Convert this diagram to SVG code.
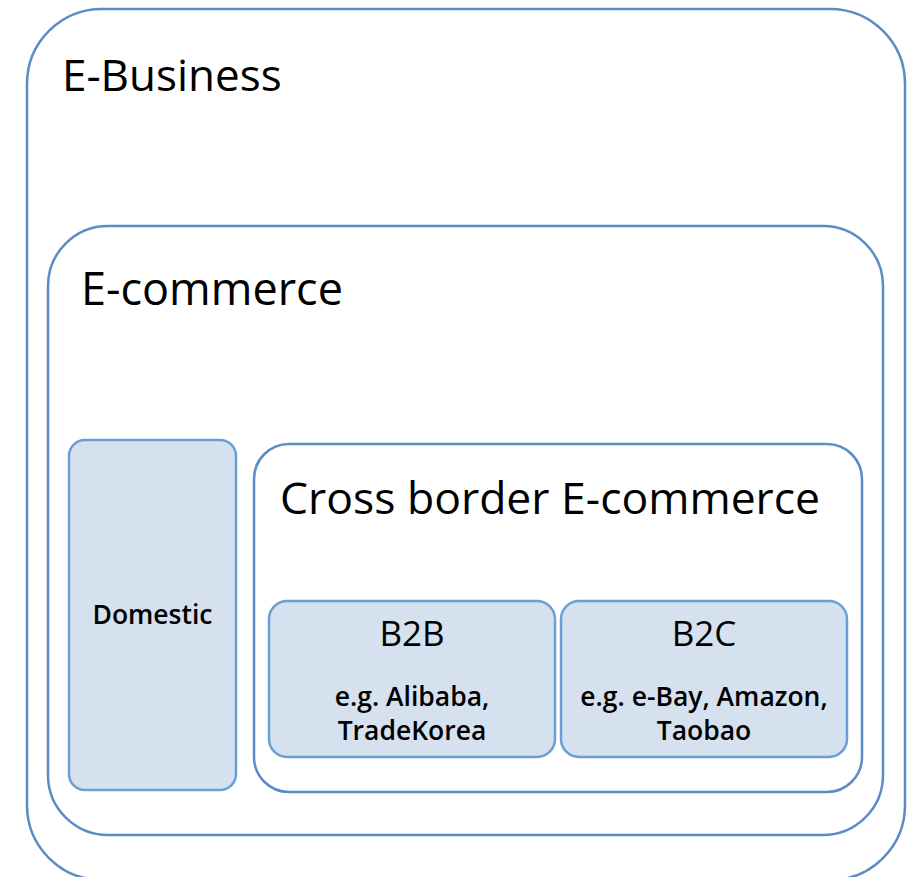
<svg xmlns="http://www.w3.org/2000/svg" width="910" height="877" viewBox="0 0 910 877">
  <style>
    .frame { fill: #ffffff; stroke: #5b8cc6; stroke-width: 2.5; }
    .box { fill: #d5e1ef; stroke: #6a9fd6; stroke-width: 2.5; }
    text { font-family: "Open Sans", "Noto Sans", "Liberation Sans", sans-serif; fill: #000000; }
    .title { font-size: 44.5px; }
    .head { font-size: 35px; text-anchor: middle; }
    .label { font-size: 26.5px; font-weight: 600; text-anchor: middle; }
  </style>
  <rect width="910" height="877" fill="#ffffff"/>

  <g id="e-business">
    <rect class="frame" x="27" y="9" width="878" height="871" rx="75" ry="75"/>
    <text class="title" x="62" y="91" style="font-size:44px">E-Business</text>
  </g>

  <g id="e-commerce">
    <rect class="frame" x="48" y="226" width="835" height="609" rx="60" ry="60"/>
    <text class="title" x="81" y="305" style="font-size:45px">E-commerce</text>
  </g>

  <g id="domestic">
    <rect class="box" x="69" y="440" width="167" height="350" rx="16" ry="16"/>
    <text class="label" x="152.5" y="624">Domestic</text>
  </g>

  <g id="cross-border">
    <rect class="frame" x="254" y="444" width="608" height="348" rx="35" ry="35"/>
    <text class="title" x="280" y="514">Cross border E-commerce</text>
  </g>

  <g id="b2b">
    <rect class="box" x="269" y="601" width="286" height="156" rx="18" ry="18"/>
    <text class="head" x="412" y="646">B2B</text>
    <text class="label" x="412" y="706">e.g. Alibaba,</text>
    <text class="label" x="412" y="740">TradeKorea</text>
  </g>

  <g id="b2c">
    <rect class="box" x="561" y="601" width="286" height="156" rx="18" ry="18"/>
    <text class="head" x="704" y="646">B2C</text>
    <text class="label" x="704" y="706">e.g. e-Bay, Amazon,</text>
    <text class="label" x="704" y="740">Taobao</text>
  </g>

  <g id="connectors"/>
</svg>
